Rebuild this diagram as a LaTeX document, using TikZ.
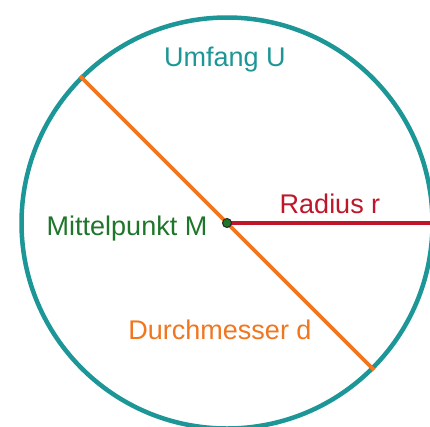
\documentclass[tikz,border=0pt]{standalone}
\usepackage{fontspec}
\setmainfont{Liberation Sans}
\usepackage{tikz}
\usetikzlibrary{positioning}
\definecolor{umfcol}{RGB}{28,150,150}
\definecolor{durcol}{RGB}{240,118,32}
\definecolor{radcol}{RGB}{190,22,42}
\definecolor{mitcol}{RGB}{30,118,42}
\tikzset{
  rand/.style  ={draw=umfcol, line width=4.5pt, circle, inner sep=0pt,
                 minimum size=411pt},
  lbl/.style   ={font=\fontsize{27}{30}\selectfont, inner sep=0pt, anchor=base},
  durch/.style ={draw=durcol, line width=3.8pt},
  rad/.style   ={draw=radcol, line width=4pt},
  mpkt/.style  ={circle, fill=mitcol, draw=black!85, line width=1pt,
                 inner sep=0pt, minimum size=9pt},
}
\begin{document}
\begin{tikzpicture}[x=1pt, y=-1pt]
\useasboundingbox[fill=white] (0,0) rectangle (430,426);
\clip (0,0) rectangle (430,426);

% ---- circle and centre ----------------------------------------------
\coordinate (M) at (227,223);
\node[rand] (kreis) at (M) {};

% ---- diameter and radius --------------------------------------------
\draw[durch] (kreis.135) -- (kreis.-45);
\draw[rad] (M) -- (kreis.east);
\node[mpkt] (punkt) at (M) {};

% ---- labels -----------------------------------------------------------
\node[lbl, text=umfcol] (umfang) at (225,66.5) {Umfang U};
\node[lbl, text=mitcol] (mitte) at (127,235) {Mittelpunkt M};
\node[lbl, text=radcol] (radius) at (330,213) {Radius r};
\node[lbl, text=durcol] (durchm) at (220,339) {Durchmesser d};

\end{tikzpicture}
\end{document}
